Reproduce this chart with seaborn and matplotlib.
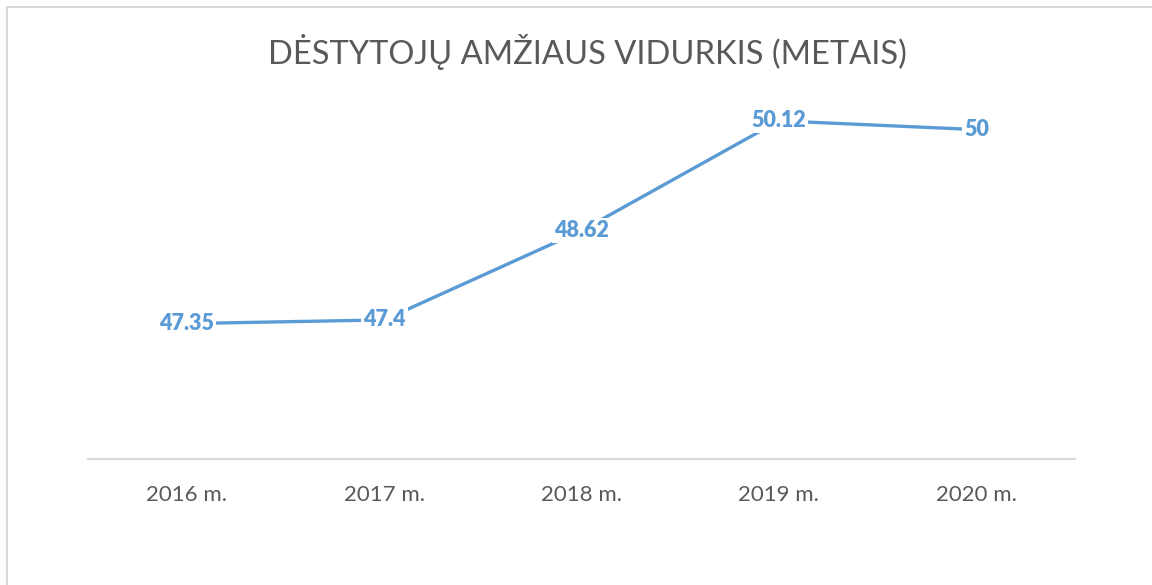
import matplotlib
matplotlib.use('Agg')
import matplotlib.pyplot as plt
import seaborn as sns
import pandas as pd
from matplotlib.lines import Line2D

# data
years = ['2016 m.', '2017 m.', '2018 m.', '2019 m.', '2020 m.']
age_mean = [47.35, 47.4, 48.62, 50.12, 50]
labels = ['47.35', '47.4', '48.62', '50.12', '50']

data = pd.DataFrame({'Metai': years, 'Amzius': age_mean})

sns.set_theme(style='white')
plt.rcParams['font.family'] = ['Lato', 'DejaVu Sans']

W, H = 1152, 585
fig = plt.figure(figsize=(W / 100, H / 100), dpi=100)
ax = fig.add_axes([88 / W, 1 - 459 / H, (1075 - 88) / W, (459 - 93) / H])

blue = '#5B9BD5'
grey_txt = '#595959'

sns.lineplot(x='Metai', y='Amzius', data=data, ax=ax, color=blue, linewidth=2.4,
             sort=False, solid_capstyle='butt')

# value labels on the points, white box hides the line behind them
for i, (v, t) in enumerate(zip(age_mean, labels)):
    ax.text(i, v, t, ha='center', va='center', fontsize=15.5, fontweight='heavy',
            color=blue, clip_on=False,
            bbox=dict(facecolor='white', edgecolor='none', pad=1.5))

ax.set_xlim(-0.5, 4.5)
ax.set_ylim(45.5, 50.5)
ax.set_yticks([])
ax.set_xlabel('')
ax.set_ylabel('')
ax.tick_params(axis='x', length=0, pad=19, labelsize=16, labelcolor=grey_txt)
for s in ['top', 'right', 'left']:
    ax.spines[s].set_visible(False)
ax.spines['bottom'].set_color('#D9D9D9')
ax.spines['bottom'].set_linewidth(1.5)

fig.text(587 / W, 1 - 52 / H, 'DĖSTYTOJŲ AMŽIAUS VIDURKIS (METAIS)', ha='center',
         va='center', fontsize=23.5, fontweight='normal', color=grey_txt)

# chart border (only top and left edges are in the picture)
fig.add_artist(Line2D([7 / W, 1], [1 - 7 / H, 1 - 7 / H], transform=fig.transFigure,
                      color='#D9D9D9', linewidth=1.5))
fig.add_artist(Line2D([7 / W, 7 / W], [0, 1 - 7 / H], transform=fig.transFigure,
                      color='#D9D9D9', linewidth=1.5))

fig.savefig('out.png', dpi=100, facecolor='white')
